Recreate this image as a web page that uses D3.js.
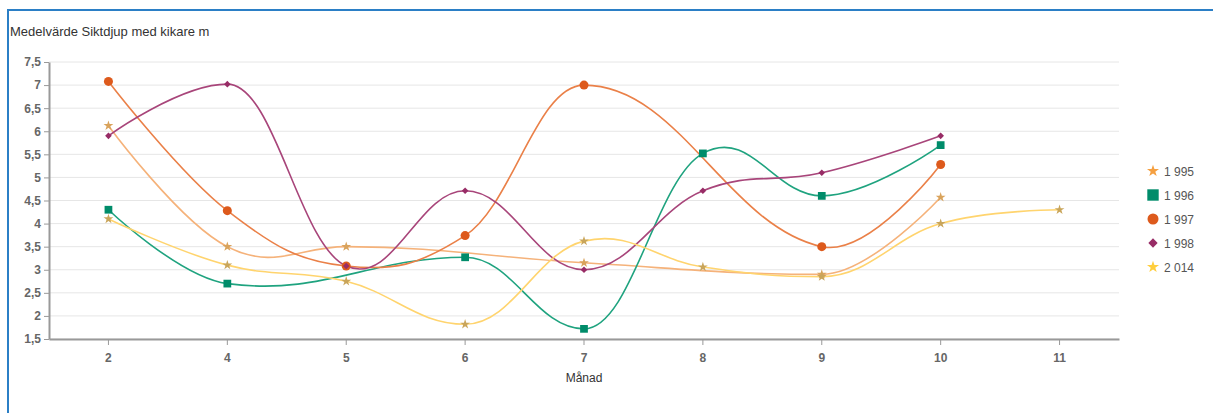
<!DOCTYPE html>
<html>
<head>
<meta charset="utf-8">
<script src="https://cdn.jsdelivr.net/npm/d3@7"></script>
<style>
  body { margin: 0; background: #fff; font-family: "Liberation Sans", Arial, sans-serif; }
  #frame { position: absolute; left: 7px; top: 9px; width: 1220px; height: 420px;
    border-left: 2px solid #2b7fc6; border-top: 2px solid #2b7fc6; }
  #myChart { position: absolute; left: 0; top: 0; }
</style>
</head>
<body>
<div id="frame"></div>
<div id="myChart"></div>
<script>
// data
const months = ["2", "4", "5", "6", "7", "8", "9", "10", "11"];
const years = ["1 995", "1 996", "1 997", "1 998", "2 014"];
const v1995 = [6.12, 3.5, 3.5, null, 3.15, null, 2.9, 4.57, null];
const v1996 = [4.3, 2.7, null, 3.27, 1.72, 5.52, 4.6, 5.7, null];
const v1997 = [7.08, 4.28, 3.08, 3.74, 7.0, null, 3.5, 5.28, null];
const v1998 = [5.9, 7.02, 3.08, 4.71, 3.0, 4.71, 5.1, 5.9, null];
const v2014 = [4.1, 3.1, 2.75, 1.82, 3.62, 3.06, 2.85, 4.0, 4.3];
const yTicks = [1.5, 2, 2.5, 3, 3.5, 4, 4.5, 5, 5.5, 6, 6.5, 7, 7.5];

const series = [
  { name: years[0], values: v1995, line: "#f5b27a", marker: "#d9a35c", legend: "#f5a041", symbol: d3.symbolStar, size: 30, lsize: 45 },
  { name: years[1], values: v1996, line: "#1fa37f", marker: "#008c6a", legend: "#008c6a", symbol: d3.symbolSquare, size: 60, lsize: 130 },
  { name: years[2], values: v1997, line: "#ea8048", marker: "#dd5a1c", legend: "#dd5a1c", symbol: d3.symbolCircle, size: 64, lsize: 95 },
  { name: years[3], values: v1998, line: "#a8457a", marker: "#982c66", legend: "#982c66", symbol: d3.symbolDiamond2, size: 28, lsize: 55 },
  { name: years[4], values: v2014, line: "#ffd46e", marker: "#c9a55a", legend: "#ffce3d", symbol: d3.symbolStar, size: 30, lsize: 45 }
];

const margin = { top: 62, right: 94, bottom: 74, left: 49 },
  width = 1213 - margin.left - margin.right,
  height = 413 - margin.top - margin.bottom;

const svg = d3
  .select("#myChart")
  .append("svg")
  .attr("width", 1213)
  .attr("height", 413);

// titel
svg.append("text")
  .attr("x", 10)
  .attr("y", 36)
  .style("font-size", "13px")
  .style("fill", "#333")
  .text("Medelvärde Siktdjup med kikare m");

const g = svg.append("g").attr("transform", "translate(" + margin.left + "," + margin.top + ")");

const x = d3.scaleBand().domain(months).range([0, width]).padding(0);
const y = d3.scaleLinear().domain([1.5, 7.5]).range([height, 0]);
const fmt = (d) => String(d).replace(".", ",");

// grid
g.append("g")
  .selectAll("line")
  .data(yTicks)
  .enter()
  .append("line")
  .attr("x1", 0)
  .attr("x2", width)
  .attr("y1", (d) => y(d))
  .attr("y2", (d) => y(d))
  .attr("stroke", "#e6e6e6")
  .attr("stroke-width", 1);

// y-axel
const yAxis = g.append("g")
  .call(d3.axisLeft(y).tickValues(yTicks).tickFormat(fmt).tickSize(5).tickSizeOuter(0));
yAxis.select(".domain").attr("stroke", "#999").attr("stroke-width", 2);
yAxis.selectAll(".tick line").attr("stroke", "#999");
yAxis.selectAll("text")
  .style("font-size", "12px")
  .style("font-weight", "bold")
  .style("fill", "#666")
  .style("font-family", "Liberation Sans, Arial, sans-serif");

// x-axel
const xAxis = g.append("g")
  .attr("transform", "translate(0," + height + ")")
  .call(d3.axisBottom(x).tickSize(6).tickSizeOuter(0).tickPadding(8));
xAxis.select(".domain").attr("stroke", "#999").attr("stroke-width", 2);
xAxis.selectAll(".tick line").attr("stroke", "#999");
xAxis.selectAll("text")
  .style("font-size", "12px")
  .style("font-weight", "bold")
  .style("fill", "#666")
  .style("font-family", "Liberation Sans, Arial, sans-serif");

g.append("text")
  .attr("x", width / 2)
  .attr("y", height + 43)
  .style("text-anchor", "middle")
  .style("font-size", "12px")
  .style("fill", "#333")
  .text("Månad");

// spline, kontrollpunkter som i highcharts (vänster punkt klampas)
function splineCurve(context) {
  return {
    areaStart() {}, areaEnd() {},
    lineStart() { this.p = []; },
    point(px, py) { this.p.push([+px, +py]); },
    lineEnd() {
      const p = this.p, n = p.length, sm = 1.5, den = sm + 1;
      const lc = [], rc = [];
      for (let i = 0; i < n; i++) {
        const [px, py] = p[i];
        if (i > 0 && i < n - 1) {
          const [lx, ly] = p[i - 1], [nx, ny] = p[i + 1];
          let lcx = (sm * px + lx) / den, lcy = (sm * py + ly) / den;
          let rcx = (sm * px + nx) / den, rcy = (sm * py + ny) / den;
          const corr = ((rcy - lcy) * (rcx - px)) / (rcx - lcx) + py - rcy;
          lcy += corr; rcy += corr;
          if (lcy > ly && lcy > py) { lcy = Math.max(ly, py); rcy = 2 * py - lcy; }
          else if (lcy < ly && lcy < py) { lcy = Math.min(ly, py); rcy = 2 * py - lcy; }
          lc[i] = [lcx, lcy]; rc[i] = [rcx, rcy];
        } else {
          lc[i] = [px, py]; rc[i] = [px, py];
        }
      }
      context.moveTo(p[0][0], p[0][1]);
      for (let i = 1; i < n; i++) {
        context.bezierCurveTo(rc[i - 1][0], rc[i - 1][1], lc[i][0], lc[i][1], p[i][0], p[i][1]);
      }
    }
  };
}

// linjer
const line = d3.line()
  .x((d) => x(d.m) + x.bandwidth() / 2)
  .y((d) => y(d.v))
  .curve(splineCurve);

series.forEach((s) => {
  const pts = months.map((m, i) => ({ m: m, v: s.values[i] })).filter((d) => d.v !== null);
  g.append("path")
    .datum(pts)
    .attr("fill", "none")
    .attr("stroke", s.line)
    .attr("stroke-width", 1.6)
    .attr("d", line);
  s.pts = pts;
});

series.forEach((s) => {
  g.selectAll(null)
    .data(s.pts)
    .enter()
    .append("path")
    .attr("transform", (d) => "translate(" + (x(d.m) + x.bandwidth() / 2) + "," + y(d.v) + ")")
    .attr("d", d3.symbol().type(s.symbol).size(s.size))
    .attr("fill", s.marker);
});

// legend
const legend = svg.append("g").attr("transform", "translate(1153,171)");
series.forEach((s, i) => {
  const row = legend.append("g").attr("transform", "translate(0," + i * 24 + ")");
  row.append("path")
    .attr("d", d3.symbol().type(s.symbol).size(s.lsize))
    .attr("fill", s.legend);
  row.append("text")
    .attr("x", 11)
    .attr("y", 4.5)
    .style("font-size", "12px")
    .style("fill", "#555")
    .text(s.name);
});
</script>
</body>
</html>
